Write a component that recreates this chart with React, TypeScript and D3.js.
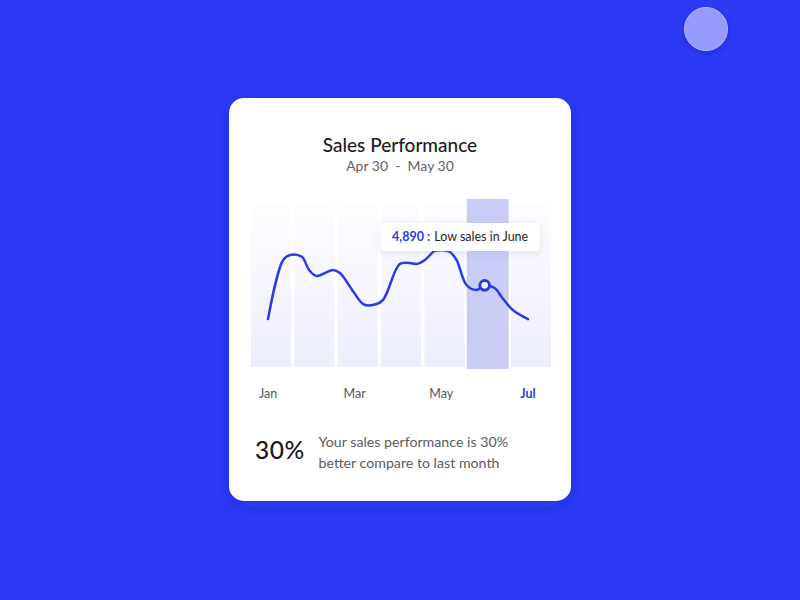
import React from "react";
import * as d3 from "d3";

const months = ["Jan", "Feb", "Mar", "Apr", "May", "Jun", "Jul"];
const axisLabels = ["Jan", "", "Mar", "", "May", "", "Jul"];
const highlightMonth = "Jun";
const activeLabel = "Jul";

// line samples: month position (0 = Jan) and sales value
const lineMonth = [0, 0.35, 0.51, 0.78, 0.95, 1.12, 1.5, 1.66, 1.97, 2.2, 2.42, 2.65, 3.04, 3.27, 3.43, 3.62, 3.85, 4.02, 4.19, 4.35, 4.58, 4.81, 5.0, 5.23, 5.41, 5.65, 6.0];
const lineSales = [2870, 6410, 6710, 6600, 5800, 5450, 5810, 5630, 4510, 3770, 3710, 4010, 6170, 6230, 6170, 6410, 6950, 6990, 6900, 6410, 4910, 4610, 4890, 4730, 4130, 3410, 2870];

const markerMonth = 5;
const markerValue = 4890;
const tooltipText = "Low sales in June";
const title = "Sales Performance";
const subtitle = "Apr 30  -  May 30";
const bigStat = "30%";
const statLines = ["Your sales performance is 30%", "better compare to last month"];

const FONT = "Lato, 'Open Sans', sans-serif";

export default function App() {
  const W = 800, H = 600;
  const band = d3.scaleBand<string>().domain(months).range([251, 551]).paddingInner(0.08).paddingOuter(0);
  const x = d3.scaleLinear().domain([0, 6]).range([268, 528]);
  const y = d3.scaleLinear().domain([0, 10000]).range([367, 200]);
  const pts: [number, number][] = lineMonth.map((m, i) => [x(m), y(lineSales[i])]);
  const path = d3.line().curve(d3.curveCatmullRom.alpha(0.5))(pts) || "";
  const fmt = d3.format(",");

  return (
    <svg width={W} height={H} style={{ position: "fixed", left: 0, top: 0, display: "block" }}>
      <defs>
        <linearGradient id="barGrad" x1="0" y1="0" x2="0" y2="1">
          <stop offset="0" stopColor="#fdfdff" />
          <stop offset="1" stopColor="#edeefd" />
        </linearGradient>
        <filter id="cardShadow" x="-20%" y="-20%" width="140%" height="140%">
          <feDropShadow dx="0" dy="6" stdDeviation="10" floodColor="#1a22a0" floodOpacity="0.25" />
        </filter>
        <filter id="tipShadow" x="-20%" y="-50%" width="140%" height="200%">
          <feDropShadow dx="0" dy="2" stdDeviation="4" floodColor="#6a6fb0" floodOpacity="0.18" />
        </filter>
        <filter id="circShadow" x="-50%" y="-50%" width="200%" height="200%">
          <feDropShadow dx="0" dy="2" stdDeviation="3" floodColor="#101880" floodOpacity="0.3" />
        </filter>
      </defs>
      <rect x={0} y={0} width={W} height={H} fill="#2b3af5" />
      <circle cx={706} cy={29} r={21.5} fill="#979bfc" stroke="#b4b7ff" strokeWidth={1} filter="url(#circShadow)" />

      <rect x={229} y={98} width={342} height={403} rx={15} fill="#ffffff" filter="url(#cardShadow)" />

      <text x={400} y={152} textAnchor="middle" fontFamily={FONT} fontSize={19} fill="#1d1d22" fontWeight={500}>{title}</text>
      <text x={400} y={171} textAnchor="middle" fontFamily={FONT} fontSize={14} fill="#5f6068" style={{ whiteSpace: "pre" }}>{subtitle}</text>

      {months.map((m) => {
        const bx = band(m)!;
        const bw = band.bandwidth();
        if (m === highlightMonth) {
          return <rect key={m} x={bx - 1} y={199} width={bw + 2} height={170} fill="#cacdf6" />;
        }
        return <rect key={m} x={bx} y={205} width={bw} height={162} fill="url(#barGrad)" />;
      })}

      <path d={path} fill="none" stroke="#2c3ae8" strokeWidth={2.5} strokeLinecap="round" strokeLinejoin="round" />
      <circle cx={x(markerMonth)} cy={y(markerValue)} r={4.8} fill="#ffffff" stroke="#2c3ae8" strokeWidth={3} />

      <g filter="url(#tipShadow)">
        <rect x={381} y={223} width={159} height={28} rx={4} fill="#ffffff" />
      </g>
      <text x={392} y={241} fontFamily={FONT} fontSize={12.5} fill="#1f1f25">
        <tspan fill="#2c3ae8" fontWeight={700}>{fmt(markerValue)} :</tspan>
        <tspan dx={4}>{tooltipText}</tspan>
      </text>

      {axisLabels.map((l, i) =>
        l ? (
          <text key={i} x={x(i)} y={398} textAnchor="middle" fontFamily={FONT} fontSize={12.5}
            fill={l === activeLabel ? "#2c3ae8" : "#55565e"} fontWeight={l === activeLabel ? 700 : 400}>{l}</text>
        ) : null
      )}

      <text x={255} y={459} fontFamily={FONT} fontSize={24.5} fill="#18181c" fontWeight={500} letterSpacing={0.6}>{bigStat}</text>
      {statLines.map((s, i) => (
        <text key={i} x={318.5} y={446.5 + i * 21} fontFamily={FONT} fontSize={14.2} fill="#5a5b63">{s}</text>
      ))}
    </svg>
  );
}
